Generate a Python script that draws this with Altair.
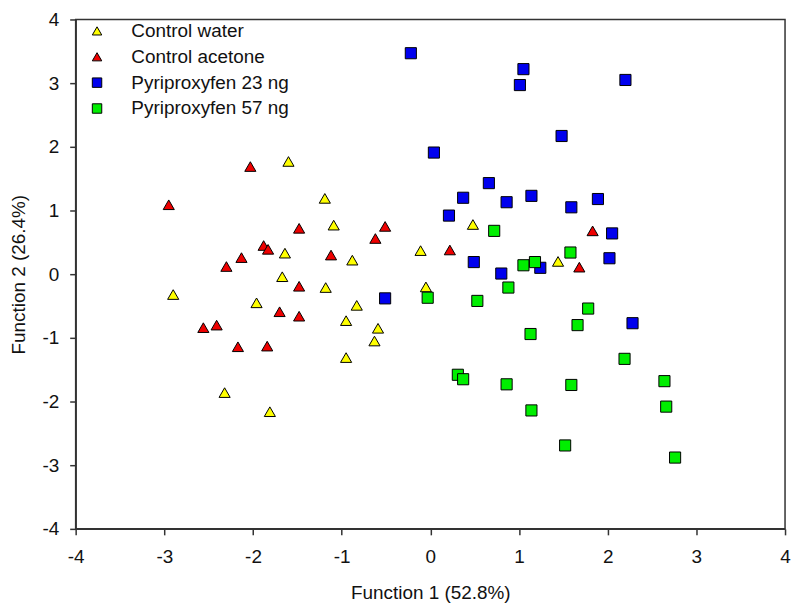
import altair as alt
import pandas as pd

groups = ["Control water", "Control acetone", "Pyriproxyfen 23 ng", "Pyriproxyfen 57 ng"]
colors = ["#FFFF00", "#EE0000", "#0000EE", "#00EE00"]
shapes = ["triangle-up", "triangle-up", "square", "square"]

water_x = [-1.60, -1.19, -1.09, -1.64, -0.88, -1.67, -1.18, -2.90, -1.96, -0.83,
           -0.95, -0.59, -0.63, -0.95, -2.32, -1.81, 0.48, -0.11, 1.44, -0.05]
water_y = [1.77, 1.19, 0.77, 0.33, 0.22, -0.04, -0.21, -0.32, -0.45, -0.49,
           -0.73, -0.85, -1.05, -1.31, -1.86, -2.16, 0.78, 0.37, 0.20, -0.20]

acetone_x = [-2.95, -2.03, -1.48, -0.51, -0.62, -1.88, -1.83, -2.13, -2.30, -1.12,
             -1.48, -1.70, -1.48, -2.56, -2.41, -2.17, -1.84, 0.22, 1.83, 1.68]
acetone_y = [1.09, 1.69, 0.72, 0.75, 0.56, 0.45, 0.39, 0.26, 0.12, 0.30,
             -0.19, -0.59, -0.66, -0.84, -0.80, -1.14, -1.13, 0.38, 0.68, 0.11]

p23_x = [-0.22, 1.05, 1.01, 2.20, 1.48, 0.04, 0.66, 0.37, 0.86, 1.14,
         1.89, 1.59, 0.21, 2.05, 2.02, 0.49, 0.80, 1.24, 2.28, -0.51]
p23_y = [3.47, 3.22, 2.97, 3.05, 2.17, 1.91, 1.43, 1.20, 1.13, 1.23,
         1.18, 1.05, 0.92, 0.64, 0.25, 0.19, 0.01, 0.10, -0.77, -0.38]

p57_x = [0.72, 1.58, 1.05, 1.18, -0.03, 0.53, 0.88, 1.78, 1.66, 1.13,
         2.19, 0.31, 0.37, 0.86, 1.59, 2.64, 2.66, 1.14, 1.52, 2.76]
p57_y = [0.68, 0.34, 0.14, 0.19, -0.37, -0.42, -0.21, -0.54, -0.80, -0.94,
         -1.33, -1.58, -1.65, -1.73, -1.74, -1.68, -2.08, -2.14, -2.69, -2.88]

rows = []
for g, xs, ys in zip(groups, [water_x, acetone_x, p23_x, p57_x], [water_y, acetone_y, p23_y, p57_y]):
    for a, b in zip(xs, ys):
        rows.append({"group": g, "f1": a, "f2": b})
df = pd.DataFrame(rows)

font = "Liberation Sans"
ticks = [-4, -3, -2, -1, 0, 1, 2, 3, 4]

chart = alt.Chart(df).mark_point(filled=True, size=125, stroke="black", strokeWidth=1, opacity=1).encode(
    x=alt.X("f1:Q", title="Function 1 (52.8%)",
            scale=alt.Scale(domain=[-4, 4], nice=False, zero=False),
            axis=alt.Axis(values=ticks, grid=False, tickSize=6, labelPadding=13, titlePadding=17,
                          labelExpr="datum.value + ''")),
    y=alt.Y("f2:Q", title="Function 2 (26.4%)",
            scale=alt.Scale(domain=[-4, 4], nice=False, zero=False),
            axis=alt.Axis(values=ticks, grid=False, tickSize=6, labelPadding=11, titlePadding=14,
                          labelExpr="datum.value + ''")),
    color=alt.Color("group:N", scale=alt.Scale(domain=groups, range=colors),
                    legend=alt.Legend(title=None, orient="none", legendX=12, legendY=2,
                                      symbolSize=90, symbolStrokeColor="black", symbolStrokeWidth=1,
                                      labelFontSize=19, labelFont=font,
                                      labelColor="#111", rowPadding=6, labelOffset=25)),
    shape=alt.Shape("group:N", scale=alt.Scale(domain=groups, range=shapes), legend=None),
    order=alt.Order("group:N"),
).properties(
    width=713, height=512,
    padding={"left": 68, "top": 10, "right": 7, "bottom": 76},
    autosize="none",
).configure_view(
    stroke="#333", strokeWidth=1.5
).configure_axis(
    domainColor="#333", domainWidth=1.5, tickColor="#333", tickWidth=1.5,
    labelFont=font, labelFontSize=19, labelColor="#111",
    titleFont=font, titleFontSize=19, titleColor="#111", titleFontWeight="normal",
    labelFlush=False, labelOverlap=False
)

chart.save("out.html", embed_options={"renderer": "svg", "actions": False})
